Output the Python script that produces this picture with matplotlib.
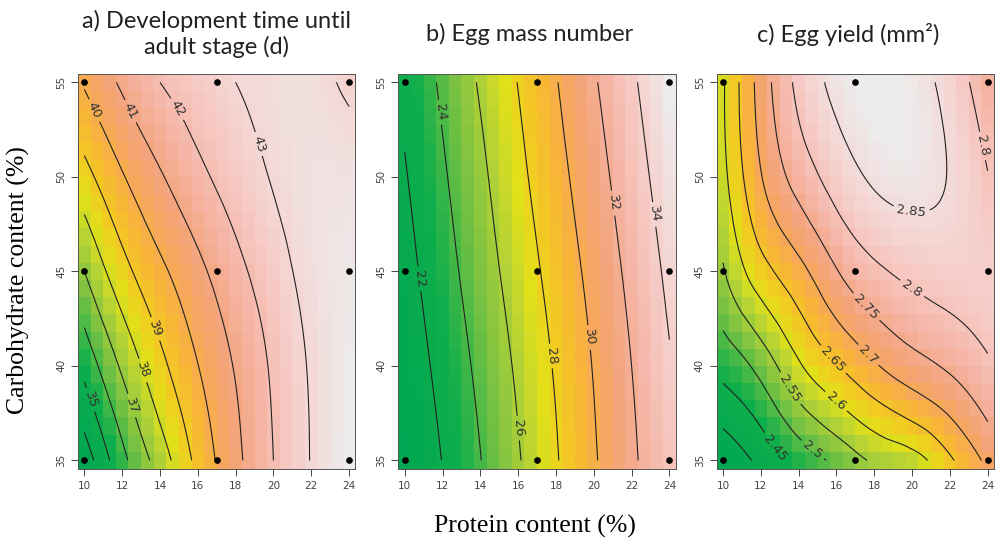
import numpy as np
import matplotlib
matplotlib.use("Agg")
import matplotlib.pyplot as plt
import matplotlib.tri as mtri
from matplotlib.colors import LinearSegmentedColormap

# grid of readings (rows = carbohydrate level, cols = protein level)
protein = [10, 12, 14, 16, 18, 20, 22, 24]
carbs = [35, 40, 45, 50, 55]

dev_time = [
    [33.4, 35.71, 37.46, 39.28, 40.75, 42.0, 43.04, 43.8],
    [35.3, 37.17, 38.72, 39.98, 41.08, 42.16, 43.1, 43.7],
    [37.0, 38.64, 39.79, 40.76, 41.71, 42.59, 43.3, 43.6],
    [38.65, 39.92, 40.9, 41.75, 42.46, 43.07, 43.38, 43.4],
    [40.1, 41.15, 42.0, 42.5, 43.0, 43.25, 43.3, 42.8],
]
egg_mass = [
    [20.15, 22.05, 23.95, 25.85, 27.85, 29.8, 31.7, 33.3],
    [20.75, 22.6, 24.45, 26.3, 28.2, 30.1, 32.0, 33.85],
    [21.3, 23.2, 25.05, 26.9, 28.75, 30.6, 32.5, 34.4],
    [21.85, 23.75, 25.6, 27.5, 29.35, 31.2, 33.1, 35.0],
    [22.45, 24.3, 26.2, 28.05, 29.9, 31.8, 33.7, 35.6],
]
egg_yield = [
    [2.36, 2.414, 2.466, 2.512, 2.557, 2.578, 2.642, 2.712],
    [2.467, 2.518, 2.593, 2.647, 2.694, 2.73, 2.758, 2.793],
    [2.545, 2.63, 2.685, 2.747, 2.79, 2.812, 2.822, 2.822],
    [2.585, 2.697, 2.77, 2.822, 2.857, 2.865, 2.847, 2.802],
    [2.594, 2.72, 2.812, 2.862, 2.878, 2.868, 2.832, 2.765],
]

# design points
design_protein = [10, 17, 24]
design_carbs = [35, 45, 55]

titles = ["a) Development time until\nadult stage (d)",
          "b) Egg mass number",
          "c) Egg yield (mm²)"]
surfaces = [dev_time, egg_mass, egg_yield]
levels = [
    [34, 35, 36, 37, 38, 39, 40, 41, 42, 43, 44],
    [20, 22, 24, 26, 28, 30, 32, 34, 36],
    [2.4, 2.45, 2.5, 2.55, 2.6, 2.65, 2.7, 2.75, 2.8, 2.85],
]
label_pos = [
    [(10.3, 38.2), (12.5, 37.9), (12.9, 39.7), (13.6, 41.9), (10.5, 53.5),
     (12.5, 53.5), (14.6, 53.4), (19.1, 51.7)],
    [(10.65, 44.6), (11.8, 53.4), (15.9, 36.7), (17.5, 40.5), (19.7, 41.5),
     (20.9, 48.6), (23.1, 48.0)],
    [(12.8, 35.7), (14.85, 35.7), (13.55, 38.8), (15.95, 38.1), (15.78, 40.3),
     (17.7, 40.6), (17.45, 43.0), (19.8, 43.8), (20.0, 48.45), (23.56, 51.6)],
]

# terrain-like palette
terrain = LinearSegmentedColormap.from_list("terrain_like", [
    (0.0, "#00a651"), (0.18, "#0dae4b"), (0.31, "#7cc242"), (0.40, "#b4d236"),
    (0.47, "#e2e018"), (0.53, "#f2ca22"), (0.60, "#f8b537"), (0.66, "#f6a75e"),
    (0.72, "#f3a47c"), (0.80, "#f5b5a6"), (0.87, "#f6c8c2"), (0.93, "#f4d8d6"),
    (1.0, "#ececec")])


# work in grid-step units so the cells are square
def to_units(x, y):
    return (np.asarray(x, float) - 10) / 2, (np.asarray(y, float) - 35) / 5


X, Y = np.meshgrid(protein, carbs)
U, V = to_units(X.ravel(), Y.ravel())
nx, ny = len(protein), len(carbs)

# two triangulations with opposite diagonals, averaged to avoid a bias
tris_a, tris_b = [], []
for r in range(ny - 1):
    for c in range(nx - 1):
        p00 = r * nx + c
        p10 = p00 + 1
        p01 = p00 + nx
        p11 = p01 + 1
        tris_a += [[p00, p10, p11], [p00, p11, p01]]
        tris_b += [[p00, p10, p01], [p10, p11, p01]]
tri_a = mtri.Triangulation(U, V, tris_a)
tri_b = mtri.Triangulation(U, V, tris_b)


def surface(z, gx, gy):
    zz = np.asarray(z, float).ravel()
    ia = mtri.CubicTriInterpolator(tri_a, zz, kind="min_E")
    ib = mtri.CubicTriInterpolator(tri_b, zz, kind="min_E")
    gu, gv = to_units(gx, gy)
    return 0.5 * (ia(gu, gv) + ib(gu, gv))


cell_x = np.linspace(10, 24, 22)
cell_y = np.linspace(35, 55, 23)
fine_x = np.linspace(10, 24, 141)
fine_y = np.linspace(35, 55, 201)

fig = plt.figure(figsize=(10.01, 5.46), dpi=100)
lefts = [0.078, 0.398, 0.716]
width = 0.277
title_x = [216, 530, 848]

for i, z in enumerate(surfaces):
    ax = fig.add_axes([lefts[i], 0.141, width, 0.724])

    CX, CY = np.meshgrid(cell_x, cell_y)
    cz = surface(z, CX, CY)
    ax.pcolormesh(cell_x, cell_y, cz, cmap=terrain, shading="nearest",
                  vmin=np.min(z), vmax=np.max(z))

    FX, FY = np.meshgrid(fine_x, fine_y)
    fz = surface(z, FX, FY)
    cs = ax.contour(FX, FY, fz, levels=levels[i], colors="#222222",
                    linewidths=0.8)
    ax.clabel(cs, inline=True, fmt="%g", fontsize=9.5, colors="#333333",
              manual=label_pos[i], inline_spacing=4)

    px, py = np.meshgrid(design_protein, design_carbs)
    ax.plot(px.ravel(), py.ravel(), "o", color="black", markersize=3.8)

    ax.set_xlim(9.667, 24.333)
    ax.set_ylim(34.545, 55.455)
    ax.set_xticks([10, 12, 14, 16, 18, 20, 22, 24])
    ax.set_yticks([35, 40, 45, 50, 55])
    ax.tick_params(labelsize=7.5, colors="#444444", length=5, width=0.7)
    for lab in ax.get_yticklabels():
        lab.set_rotation(90)
        lab.set_va("center")
    for sp in ax.spines.values():
        sp.set_linewidth(0.7)
        sp.set_color("#555555")

    fig.text(title_x[i] / 1001, 1 - 34 / 546, titles[i], ha="center",
             va="center", fontsize=17, family="Lato", color="#222222",
             linespacing=1.22)

fig.text(0.018, 0.487, "Carbohydrate content (%)", rotation=90, ha="center",
         va="center", fontsize=18.5, family="Liberation Serif")
fig.text(535 / 1001, 0.035, "Protein content (%)", ha="center", va="center",
         fontsize=18.5, family="Liberation Serif")

fig.savefig("out.png", dpi=100)
plt.close(fig)
